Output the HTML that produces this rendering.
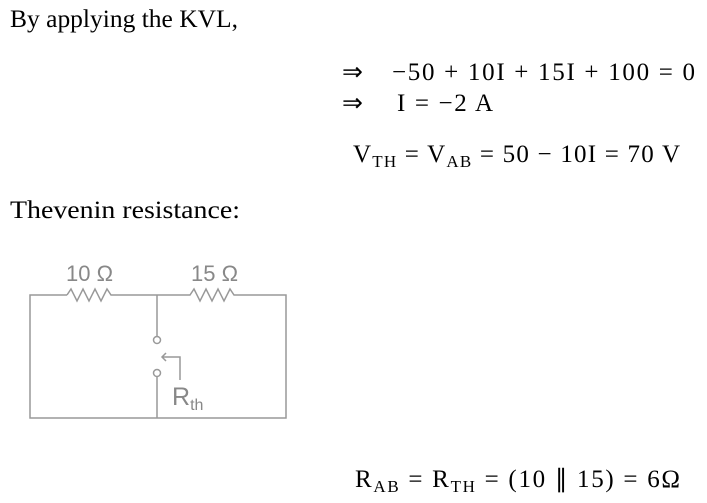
<!DOCTYPE html>
<html><head><meta charset="utf-8"><style>
html,body{margin:0;padding:0;background:#fff;}
svg{display:block}
</style></head><body>
<svg width="707" height="503" xmlns="http://www.w3.org/2000/svg" font-family="Liberation Serif, serif" font-size="25" fill="#000">
<text x="10" y="27" textLength="228" lengthAdjust="spacingAndGlyphs">By applying the KVL,</text>
<text x="342" y="80">⇒</text>
<text x="392" y="80" textLength="303" lengthAdjust="spacing">−50 + 10I + 15I + 100 = 0</text>
<text x="342" y="111">⇒</text>
<text x="397" y="111" textLength="96" lengthAdjust="spacing">I = −2 A</text>
<text x="353" y="162" textLength="327" lengthAdjust="spacing">V<tspan font-size="17" dy="5">TH</tspan><tspan dy="-5"> = V</tspan><tspan font-size="17" dy="5">AB</tspan><tspan dy="-5"> = 50 − 10I = 70 V</tspan></text>
<text x="10" y="218" textLength="230" lengthAdjust="spacingAndGlyphs">Thevenin resistance:</text>
<text x="355" y="487" textLength="325" lengthAdjust="spacing">R<tspan font-size="17" dy="5">AB</tspan><tspan dy="-5"> = R</tspan><tspan font-size="17" dy="5">TH</tspan><tspan dy="-5"> = (10 ∥ 15) = 6Ω</tspan></text>
<g stroke="#999" stroke-width="1.5" fill="none">
<path d="M67 295 H30 V418 H286 V295 H238"/>
<path d="M67 295 l4 -6 l6 12 l6 -12 l6 12 l6 -12 l6 12 l6 -12 l4 6 H190 l4 -6 l6 12 l6 -12 l6 12 l6 -12 l6 12 l6 -12 l4 6 H238"/>
<path d="M157 295 V336"/>
<circle cx="157" cy="340" r="3.5"/>
<circle cx="157" cy="373" r="3.5"/>
<path d="M157 377 V418"/>
<path d="M180 380 V357 H162 M166 353 L162 357 L166 361"/>
</g>
<g fill="#888" font-family="Liberation Sans, sans-serif">
<text x="66" y="281" font-size="22">10 Ω</text>
<text x="191" y="281" font-size="22">15 Ω</text>
<text x="172" y="405" font-size="25">R<tspan font-size="16" dy="5">th</tspan></text>
</g>
</svg>
</body></html>
